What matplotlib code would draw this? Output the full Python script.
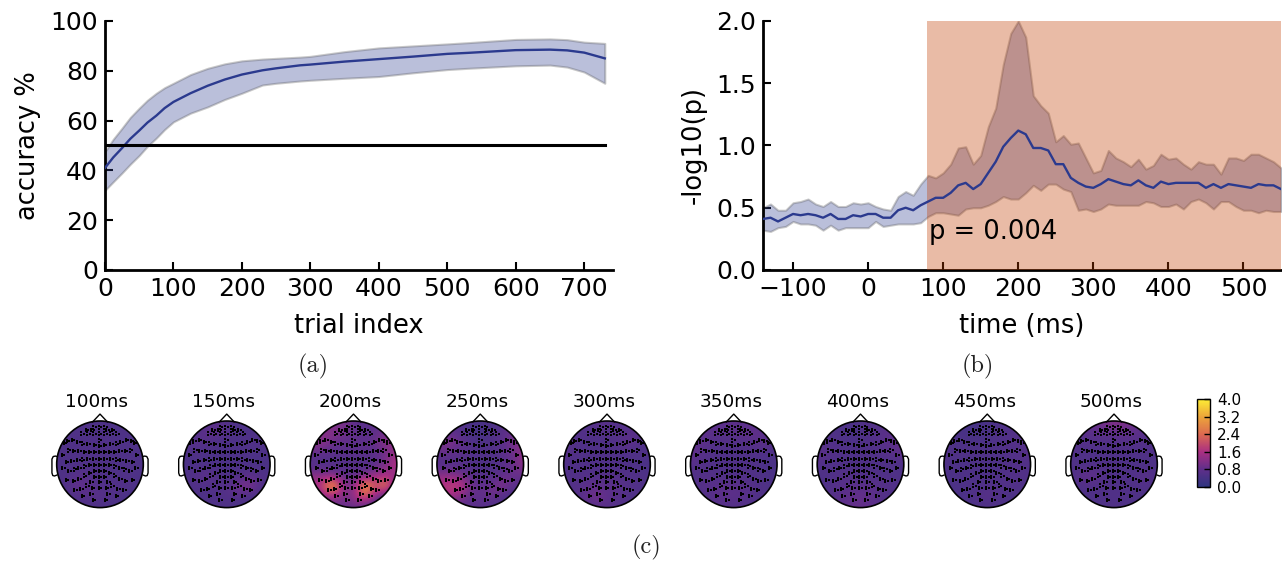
import numpy as np
import matplotlib
matplotlib.use("Agg")
import matplotlib.pyplot as plt
from matplotlib.colors import LinearSegmentedColormap, Normalize
from matplotlib.cm import ScalarMappable
from matplotlib.patches import Circle

# (a) accuracy over trials
trial_x = [0, 12, 25, 37, 50, 62, 75, 87, 100, 125, 150, 175, 200, 230, 250, 285, 300, 350, 400, 450, 500, 530, 600, 650, 675, 700, 730]
acc_mean = [41, 45.2, 49, 52.7, 56, 59.2, 62, 65, 67.5, 71, 74, 76.5, 78.5, 80.2, 81, 82.2, 82.5, 83.7, 84.7, 85.7, 86.8, 87.2, 88.3, 88.5, 88.2, 87.3, 85]
acc_upper = [47.5, 52.5, 57, 61.3, 65, 68.2, 71, 73.2, 75, 78.5, 81, 82.8, 84, 84.7, 85, 85.5, 85.8, 87.7, 89.2, 90, 90.8, 91.3, 92.6, 92.8, 92.5, 91.5, 91]
acc_lower = [32, 35.4, 39, 42.5, 46, 49.7, 53, 56.4, 59.5, 63, 65.5, 68.5, 71, 74.3, 75, 75.9, 76.2, 77, 77.7, 79.2, 80.5, 81, 82, 82.3, 81.5, 79.5, 75]
chance = [50, 50]
chance_x = [0, 730]

# (b) significance over time
time_ms = list(range(-140, 560, 10))
p_mean = [.41, .42, .39, .42, .45, .44, .45, .44, .42, .45, .41, .41, .44, .43, .45, .45, .42, .42, .48, .50,
          .48, .52, .55, .58, .58, .62, .68, .70, .65, .69, .78, .87, .99, 1.06, 1.12, 1.09, .98, .98, .96, .85,
          .85, .74, .70, .67, .66, .69, .73, .71, .69, .68, .72, .68, .66, .71, .69, .70, .70, .70, .70, .66,
          .69, .66, .69, .68, .67, .66, .69, .68, .68, .65]
p_upper = [.50, .53, .48, .48, .54, .55, .57, .53, .51, .55, .51, .51, .54, .53, .54, .51, .49, .48, .59, .63,
           .60, .69, .76, .74, .78, .85, .98, .99, .85, .92, 1.15, 1.30, 1.65, 1.90, 2.0, 1.87, 1.40, 1.32, 1.26, 1.03,
           1.08, 1.01, 1.02, .90, .78, .80, .96, .90, .87, .83, .89, .81, .84, .93, .89, .90, .85, .81, .87, .85,
           .85, .77, .90, .90, .88, .93, .93, .90, .87, .82]
p_lower = [.32, .31, .34, .35, .39, .37, .37, .36, .32, .36, .32, .34, .34, .34, .34, .39, .35, .36, .37, .37,
           .37, .38, .43, .46, .46, .45, .44, .49, .50, .50, .52, .55, .59, .57, .57, .62, .68, .64, .69, .69,
           .65, .63, .48, .49, .47, .49, .53, .52, .52, .52, .52, .55, .54, .51, .51, .53, .49, .55, .57, .54,
           .49, .55, .55, .51, .48, .48, .46, .48, .47, .47]
sig_start = 79
sig_end = 550

# (c) scalp maps, rows from front to back
map_times = ["100ms", "150ms", "200ms", "250ms", "300ms", "350ms", "400ms", "450ms", "500ms"]
map_100 = [[.5, .5, .5, .5, .5, .5, .5, .5, .5],
           [.5, .5, .55, .55, .55, .5, .5, .5, .5],
           [.5, .6, .55, .55, .6, .55, .5, .55, .5],
           [.5, .55, .55, .55, .55, .5, .55, .5, .5],
           [.5, .5, .55, .5, .55, .55, .5, .6, .5],
           [.5, .55, .7, .6, .55, .5, .55, .5, .5],
           [.5, .6, .9, .7, .55, .6, .6, .55, .4],
           [.5, .55, .6, .7, .7, .6, .55, .4, .35],
           [.45, .5, .5, .5, .5, .45, .4, .35, .35]]
map_150 = [[.5, .5, .6, .7, .6, .5, .5, .5, .5],
           [.5, .6, .8, .8, .6, .5, .5, .5, .5],
           [.55, .7, .6, .5, .5, .5, .55, .6, .5],
           [.5, .55, .5, .5, .5, .5, .5, .5, .5],
           [.45, .5, .5, .45, .5, .5, .5, .4, .5],
           [.5, .6, .8, .6, .5, .5, .7, .6, .5],
           [.5, .6, .6, .6, .6, 1.0, 1.2, .8, .35],
           [.5, .5, .5, .6, .6, .7, .6, .4, .3],
           [.45, .5, .5, .5, .5, .4, .35, .3, .3]]
map_200 = [[.9, .9, 1.0, 1.1, .8, .7, .7, .8, .9],
           [1.0, 1.2, 1.3, 1.0, .8, .7, .8, 1.0, 1.1],
           [1.1, 1.3, .9, .8, .8, .8, .9, 1.3, 1.3],
           [.9, .8, .7, .7, .7, .7, .7, 1.0, 1.4],
           [.5, .5, .6, .6, .6, .6, .7, 1.1, 1.8],
           [1.2, 1.2, 1.0, .8, .8, .9, 1.3, 1.5, 1.3],
           [1.5, 1.9, 3.5, 1.3, 1.0, 3.3, 2.0, 3.0, .7],
           [1.1, 1.2, 1.6, 1.1, 1.3, 2.5, 1.2, .6, .35],
           [.8, .8, .8, .8, .9, .7, .4, .3, .3]]
map_250 = [[.5, .5, .5, .5, .45, .5, .6, .8, .9],
           [.7, .8, .7, .4, .35, .5, .7, .9, 1.0],
           [1.0, 1.2, .9, .6, .5, .6, .7, 1.1, 1.2],
           [.9, .8, .7, .6, .6, .6, .7, .9, 1.4],
           [.5, .6, .6, .6, .5, .5, .6, .9, 1.3],
           [1.2, 1.2, 1.0, .7, .6, .6, .8, .9, .9],
           [1.7, 1.9, 2.0, 1.0, .8, .9, 1.2, .8, .6],
           [1.3, 1.5, 1.3, .8, .8, 1.0, .7, .4, .35],
           [.8, .8, .7, .7, .7, .5, .4, .3, .3]]
map_300 = [[.6, .6, .6, .7, .7, .6, .6, .6, .6],
           [.6, .6, .6, .6, .6, .6, .7, .7, .6],
           [.6, .6, .55, .55, .55, .6, .8, .6, .5],
           [.7, .6, .55, .55, .55, .55, .55, .55, .5],
           [.55, .55, .55, .55, .55, .55, .55, .5, .45],
           [.55, .6, .6, .6, .6, .6, .6, .55, .5],
           [.6, .6, .7, .8, .7, .7, .6, .6, .5],
           [.55, .6, .8, 1.1, .8, .7, .6, .5, .45],
           [.5, .55, .6, .7, .65, .6, .5, .45, .45]]
map_350 = [[.65, .65, .7, .75, .75, .7, .65, .6, .6],
           [.7, .8, .75, .7, .7, .8, .85, .7, .6],
           [.8, .75, .6, .6, .6, .6, .7, .75, .55],
           [.85, .65, .6, .55, .55, .55, .6, .55, .5],
           [.7, .6, .55, .55, .55, .55, .55, .45, .45],
           [.55, .6, .6, .55, .55, .55, .55, .5, .45],
           [.55, .7, .7, .75, .7, .7, .6, .55, .45],
           [.5, .55, .7, .8, .75, .7, .6, .5, .45],
           [.5, .55, .6, .6, .6, .6, .5, .45, .45]]
map_400 = [[.6, .5, .5, .5, .55, .6, .6, .6, .6],
           [.55, .55, .5, .45, .5, .6, .7, .75, .7],
           [.6, .6, .55, .5, .55, .6, .65, .75, .9],
           [.8, .65, .6, .55, .55, .55, .6, .7, .85],
           [.6, .55, .55, .55, .55, .55, .55, .5, .55],
           [.5, .55, .6, .6, .55, .55, .55, .55, .5],
           [.5, .55, .7, .7, .7, .7, .65, .6, .5],
           [.5, .6, .7, .8, .9, .8, .6, .55, .5],
           [.6, .6, .7, .85, .85, .75, .6, .55, .5]]
map_450 = [[.55, .5, .4, .4, .45, .5, .55, .55, .55],
           [.5, .45, .4, .4, .45, .55, .6, .6, .55],
           [.55, .5, .5, .5, .5, .55, .6, .65, .6],
           [.6, .55, .55, .55, .55, .55, .6, .6, .7],
           [.5, .5, .5, .5, .5, .5, .55, .6, .55],
           [.5, .5, .55, .5, .5, .55, .6, .65, .55],
           [.45, .5, .5, .55, .6, .6, .6, .55, .5],
           [.45, .45, .5, .6, .7, .6, .5, .5, .45],
           [.4, .4, .45, .5, .5, .5, .45, .4, .4]]
map_500 = [[.6, .7, .9, 1.1, 1.2, 1.2, 1.0, .7, .6],
           [.6, .7, .75, .8, .85, .85, .75, .7, .6],
           [.6, .65, .6, .55, .55, .6, .65, .6, .55],
           [.6, .55, .55, .55, .55, .55, .55, .55, .55],
           [.5, .5, .55, .5, .5, .5, .5, .5, .5],
           [.55, .8, .85, .6, .55, .55, .6, .7, .55],
           [.55, .6, .6, .55, .55, .55, .55, .6, .5],
           [.45, .5, .55, .55, .6, .6, .55, .5, .45],
           [.4, .45, .45, .5, .55, .5, .45, .4, .4]]
map_values = [map_100, map_150, map_200, map_250, map_300, map_350, map_400, map_450, map_500]
cbar_ticks = [0.0, 0.8, 1.6, 2.4, 3.2, 4.0]

# sensor positions in head radii, left half, mirrored later
sensor_x = [-.13, -.30, -.17, -.40, -.27, -.13,
            -.81, -.74, -.62, -.50, -.39, -.27, -.12,
            -.85, -.72, -.60, -.48, -.35, -.23, -.12,
            -.76, -.64, -.50, -.39, -.26, -.13,
            -.84, -.70, -.58, -.47, -.35, -.23, -.12,
            -.76, -.60, -.48, -.35, -.23, -.12,
            -.56, -.43, -.29, -.19, -.12,
            -.39, -.19, -.16, -.14]
sensor_y = [.85, .79, .79, .71, .71, .71,
            .50, .54, .57, .52, .48, .46, .44,
            .22, .32, .31, .31, .29, .29, .28,
            .05, .07, .09, .11, .12, .12,
            -.08, -.16, -.12, -.08, -.05, -.01, -.01,
            -.36, -.39, -.33, -.26, -.20, -.16,
            -.59, -.58, -.49, -.41, -.30,
            -.74, -.68, -.55, -.82]
midline_y = [.85, .71, .55, .43, .29, .12, -.01, -.16, -.30, -.41, -.54]
nose_x = [-.17, 0, .17]
nose_y = [.98, 1.16, .98]
ear_x = [.99, 1.03, 1.08, 1.11, 1.11, 1.09, 1.05, 1.0]
ear_y = [.18, .19, .18, .12, -.2, -.26, -.27, -.25]

line_color = "#2b3a8e"
fig_w, fig_h = 1282, 561
plt.rcParams["font.family"] = "DejaVu Sans"
fig = plt.figure(figsize=(fig_w / 100, fig_h / 100), dpi=100)
head_cmap = LinearSegmentedColormap.from_list(
    "head", ["#2f3580", "#5f2f8a", "#aa2f82", "#dc6a50", "#eca53a", "#fdee35"])


def px_axes(left, top, right, bottom, **kw):
    return fig.add_axes([left / fig_w, 1 - bottom / fig_h, (right - left) / fig_w, (bottom - top) / fig_h], **kw)


def style(ax):
    ax.spines["top"].set_visible(False)
    ax.spines["right"].set_visible(False)
    ax.spines["left"].set_linewidth(2)
    ax.spines["bottom"].set_linewidth(2)
    ax.tick_params(direction="in", length=6, width=1.5, labelsize=18, pad=5, top=False, right=False)


def band(ax, x, low, high, mean):
    ax.fill_between(x, low, high, facecolor=line_color, edgecolor="#555555", alpha=0.32, linewidth=1.5, zorder=2)
    ax.plot(x, mean, color=line_color, linewidth=1.7, zorder=4)


# accuracy panel
ax1 = px_axes(105, 21, 613, 270)
style(ax1)
band(ax1, trial_x, acc_lower, acc_upper, acc_mean)
ax1.plot(chance_x, chance, color="black", linewidth=2.2, zorder=5)
ax1.set_xlim(0, 742)
ax1.set_ylim(0, 100)
ax1.set_xticks(range(0, 800, 100))
ax1.set_yticks(range(0, 120, 20))
ax1.set_xlabel("trial index", fontsize=18.5, labelpad=9)
ax1.set_ylabel("accuracy %", fontsize=18.5, labelpad=7)

# significance panel
ax2 = px_axes(763, 21, 1281, 270)
style(ax2)
ax2.axvspan(sig_start, sig_end, facecolor="#c03d00", edgecolor="none", alpha=0.35, zorder=3)
band(ax2, time_ms, p_lower, p_upper, p_mean)
ax2.set_xlim(-140, 550)
ax2.set_ylim(0, 2)
ax2.set_xticks(range(-100, 600, 100))
ax2.set_yticks([0, 0.5, 1.0, 1.5, 2.0])
ax2.set_xlabel("time (ms)", fontsize=18.5, labelpad=9)
ax2.set_ylabel("-log10(p)", fontsize=18.5, labelpad=7)
ax2.text(sig_start + 2, 0.25, "p = 0.004", fontsize=18.5, va="baseline", zorder=6)

# scalp maps
norm = Normalize(0, 4)
all_x = np.concatenate([sensor_x, -np.array(sensor_x), np.zeros(len(midline_y))])
all_y = np.concatenate([sensor_y, sensor_y, midline_y])
half = 55
for i, (name, values) in enumerate(zip(map_times, map_values)):
    cx = 100 + 126.75 * i
    ax = px_axes(cx - half, 464.3 - half, cx + half, 464.3 + half)
    ax.set_axis_off()
    ax.set_xlim(-half / 43.3, half / 43.3)
    ax.set_ylim(-half / 43.3, half / 43.3)
    im = ax.imshow(values, extent=(-1.1, 1.1, -1.1, 1.1), cmap=head_cmap, norm=norm,
                   interpolation="bicubic", origin="upper", zorder=1)
    outline = Circle((0, 0), 1, facecolor="none", edgecolor="black", linewidth=1.2, zorder=4)
    ax.add_patch(outline)
    im.set_clip_path(outline)
    ax.plot(nose_x, nose_y, color="black", linewidth=1, zorder=3)
    ax.plot(ear_x, ear_y, color="black", linewidth=1, zorder=3)
    ax.plot(-np.array(ear_x), ear_y, color="black", linewidth=1, zorder=3)
    # each sensor site is a little triplet of dots
    for dx, dy in [(-.03, .025), (-.03, -.025), (.03, 0)]:
        ax.scatter(all_x + dx, all_y + dy, s=1.6, marker="s", color="black", linewidths=0, zorder=5)
    ax.text(-0.07, 1.33, name, fontsize=13.3, ha="center", va="baseline")

# colorbar
cax = px_axes(1197, 399, 1210, 487)
cb = fig.colorbar(ScalarMappable(norm=norm, cmap=head_cmap), cax=cax, ticks=cbar_ticks)
cb.ax.set_yticklabels(["%.1f" % t for t in cbar_ticks])
cb.ax.tick_params(direction="in", length=4, width=1, labelsize=11, pad=5)
cb.outline.set_linewidth(1)

# sub captions
for label, x, y in [("(a)", 313, 366), ("(b)", 978, 366), ("(c)", 646, 547)]:
    fig.text(x / fig_w, 1 - y / fig_h, label, family="cmr10", fontsize=17.5, ha="center", va="center", color="#222222")

fig.savefig("out.png", dpi=100)
